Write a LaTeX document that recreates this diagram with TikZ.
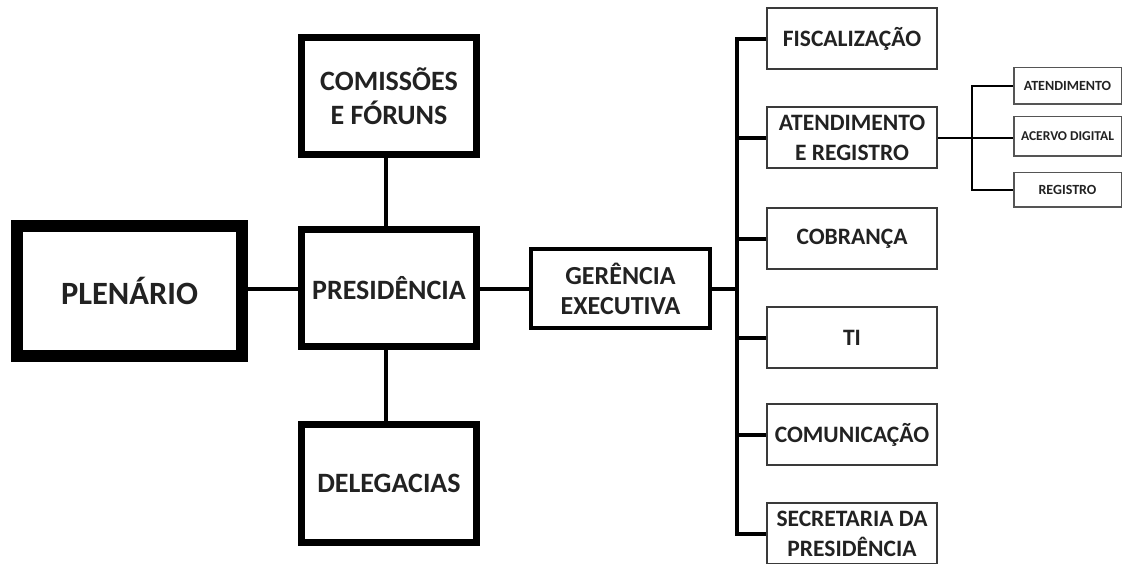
\documentclass[tikz,border=0pt]{standalone}
\usepackage{fontspec}
\setmainfont{Carlito}
\definecolor{txt}{HTML}{222222}
\definecolor{thinb}{HTML}{3A3A3A}
\definecolor{smallb}{HTML}{555555}
\begin{document}
\begin{tikzpicture}[x=1pt,y=-1pt,
  box/.style={draw=black,fill=white,inner sep=0pt,align=center,text=txt,font=\bfseries},
  heavybox/.style={box,line width=12pt},
  mainbox/.style={box,line width=7pt},
  gerbox/.style={box,line width=4pt},
  unitbox/.style={box,draw=thinb,line width=2pt,minimum width=170pt,minimum height=61pt},
  subbox/.style={box,draw=smallb,line width=1.5pt,minimum width=107.5pt},
  conn/.style={line width=3.5pt,black},
  trunkline/.style={line width=4pt,black},
  subconn/.style={line width=2.5pt,black}]
\useasboundingbox (0,0) rectangle (1128,564);
\fill[white] (0,0) rectangle (1128,564);

% left column
\node[heavybox,minimum width=225pt,minimum height=130pt,font=\bfseries\fontsize{32.5}{36}\selectfont] (plen) at (129.5,291) {PLENÁRIO};
\node[mainbox,minimum width=175pt,minimum height=117pt,font=\bfseries\fontsize{28}{34}\selectfont] (com) at (389,96) {COMISSÕES\\E FÓRUNS};
\node[mainbox,minimum width=175pt,minimum height=117pt,font=\bfseries\fontsize{28}{34}\selectfont] (pres) at (389,288) {PRESIDÊNCIA};
\node[mainbox,minimum width=175pt,minimum height=118pt,font=\bfseries\fontsize{28}{34}\selectfont] (del) at (389,483.5) {DELEGACIAS};

\node[gerbox,minimum width=179pt,minimum height=79pt,font=\bfseries\fontsize{26}{30}\selectfont] (ger) at (620.5,288.5) {GERÊNCIA\\EXECUTIVA};

% right column
\node[unitbox,font=\bfseries\fontsize{23.5}{30}\selectfont] (fisc) at (852,39) {FISCALIZAÇÃO};
\node[unitbox,font=\bfseries\fontsize{23.5}{30}\selectfont] (atreg) at (852,138) {ATENDIMENTO\\E REGISTRO};
\node[unitbox,font=\bfseries\fontsize{23.5}{30}\selectfont] (cob) at (852,239) {COBRANÇA};
\node[unitbox,font=\bfseries\fontsize{23.5}{30}\selectfont] (ti) at (852,337.5) {TI};
\node[unitbox,font=\bfseries\fontsize{23.5}{30}\selectfont] (comu) at (852,434.5) {COMUNICAÇÃO};
\node[unitbox,font=\bfseries\fontsize{23.5}{30}\selectfont] (sec) at (852,533.5) {SECRETARIA DA\\PRESIDÊNCIA};

% sub boxes
\node[subbox,minimum height=36.5pt,font=\bfseries\fontsize{14}{16}\selectfont] (sat) at (1067.5,86) {ATENDIMENTO};
\node[subbox,minimum height=39.5pt,font=\bfseries\fontsize{13.5}{16}\selectfont] (sac) at (1067.5,136.5) {ACERVO DIGITAL};
\node[subbox,minimum height=34.5pt,font=\bfseries\fontsize{14}{16}\selectfont] (sre) at (1067.5,190) {REGISTRO};

% connectors
\draw[conn] (plen.east |- 0,289) -- (pres.west |- 0,289);
\draw[conn] (com.south -| 386,0) -- (pres.north -| 386,0);
\draw[conn] (pres.south -| 386,0) -- (del.north -| 386,0);
\draw[conn] (pres.east |- 0,289) -- (ger.west |- 0,289);

\coordinate (trunk) at (737,289);
\draw[trunkline] (ger.east |- trunk) -- (trunk);
\foreach \b in {fisc,atreg,cob,ti,comu,sec}{
  \draw[trunkline] (trunk) |- (\b.west);
}

\coordinate (subtrunk) at (972,138);
\draw[subconn] (atreg.east) -- (sac.west |- atreg.east);
\draw[subconn] (subtrunk) |- (sat.west);
\draw[subconn] (subtrunk) |- (sre.west);
\end{tikzpicture}
\end{document}
